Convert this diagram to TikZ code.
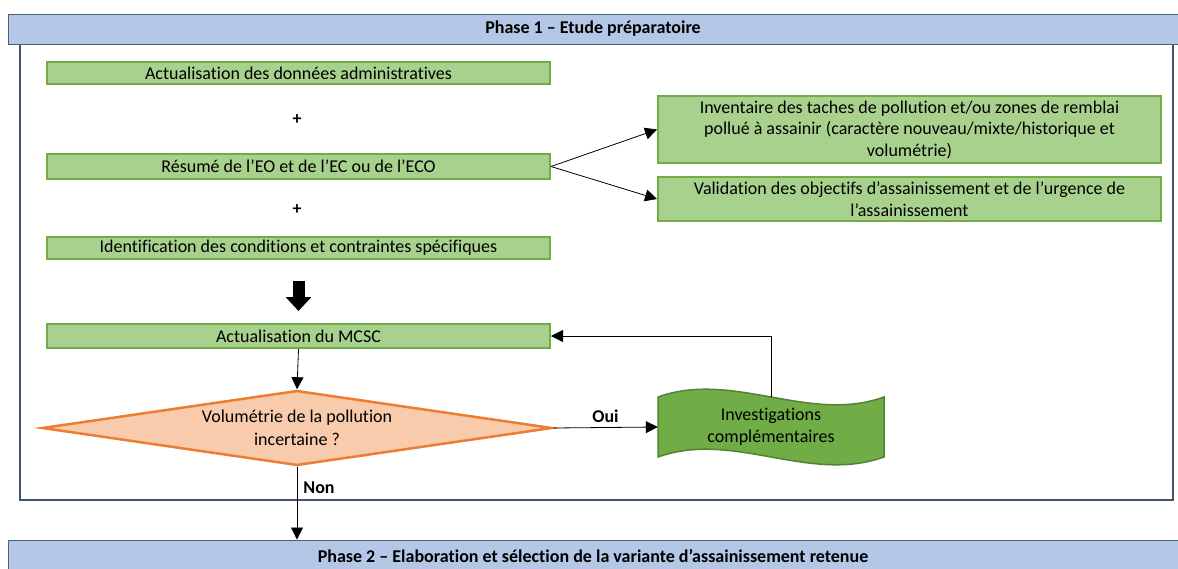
\documentclass[tikz,border=0pt]{standalone}
\usepackage{fontspec}
\setmainfont{Carlito}[Ligatures={TeX,NoCommon}]
\usepackage{tikz}
\usetikzlibrary{arrows.meta,shapes,calc}

\definecolor{headfill}{HTML}{B4C7E7}
\definecolor{headline}{HTML}{4A5E80}
\definecolor{framecol}{HTML}{44546A}
\definecolor{greenfill}{HTML}{A9D18E}
\definecolor{greenline}{HTML}{70AD47}
\definecolor{wavefill}{HTML}{70AD47}
\definecolor{waveline}{HTML}{548235}
\definecolor{diafill}{HTML}{F8CBAD}
\definecolor{dialine}{HTML}{ED7D31}

\begin{document}
\begin{tikzpicture}[x=1pt,y=-1pt]
\tikzset{
	phase node/.style = {rectangle, draw = headline, fill = headfill, line width = 1, minimum width = 1170, inner sep = 0, font = \fontsize{18}{21.5}\selectfont\bfseries},
	green node/.style = {rectangle, draw = greenline, fill = greenfill, line width = 2, minimum width = 503, inner sep = 0, align = center, font = \fontsize{18}{21.5}\selectfont},
	plus node/.style = {inner sep = 0, font = \fontsize{18}{21.5}\selectfont\bfseries},
	test node/.style = {diamond, aspect = 6.8, draw = dialine, fill = diafill, line width = 2.5, minimum width = 510, minimum height = 75, inner sep = 0},
	test text/.style = {inner sep = 0, align = center, font = \fontsize{18}{23}\selectfont},
	wave node/.style = {rectangle, minimum width = 226, minimum height = 60, inner sep = 0, align = center, font = \fontsize{18}{22}\selectfont},
	link/.style = {line width = 0.8, -{Triangle[length = 12, width = 12]}},
	big arrow/.style = {line width = 12, -{Triangle[length = 14, width = 25]}}
}
\useasboundingbox (0,0) rectangle (1178,568);

\draw[framecol, line width = 2] (20,44) rectangle (1173,500);
\node(1)[phase node, minimum height = 30] at (593,29) {Phase 1 – Etude préparatoire};

\node(2)[green node, minimum height = 22] at (298.5,73) {Actualisation des données administratives};
\node(3)[plus node] at (297,120) {+};
\node(4)[green node, minimum height = 25] at (298.5,166.5) {Résumé de l’EO et de l’EC ou de l’ECO};
\node(5)[plus node] at (297,210) {+};
\node(6)[green node, minimum height = 22] at (298.5,248) {Identification des conditions et contraintes spécifiques};
\node(7)[green node, minimum height = 24] at (298.5,336) {Actualisation du MCSC};
\node(8)[test node] at (297,428) {};
\node(8t)[test text] at (8) {Volumétrie de la pollution\\incertaine ?};

\draw[waveline, fill = wavefill, line width = 1.5]
	(658,397) .. controls (733,370) and (809,424) .. (884,397)
	-- (884,457) .. controls (809,484) and (733,430) .. (658,457) -- cycle;
\node(9)[wave node] at (771,427) {Investigations\\complémentaires};

\node(10)[green node, minimum height = 67] at (909.5,129.5) {Inventaire des taches de pollution et/ou zones de remblai\\pollué à assainir (caractère nouveau/mixte/historique et\\volumétrie)};
\node(11)[green node, minimum height = 44] at (909.5,199) {Validation des objectifs d’assainissement et de l’urgence de\\l’assainissement};

\node(12)[phase node, minimum height = 32] at (593,556) {Phase 2 – Elaboration et sélection de la variante d’assainissement retenue};

\draw[link] (4.east) -- (10.west);
\draw[link] (4.east) -- (11.west);
\draw[big arrow] ($(6.south)+(0,21)$) -- ($(7.north)+(0,-12)$);
\draw[link] (7.south) -- (8.north);
\draw[link] (8.east) -- node[above = 4, plus node]{Oui} (9.west);
\draw[link] (9.north) |- (7.east);
\draw[link] (8.south) -- node[right = 6, pos = .29, plus node]{Non} (8.south |- 12.north);
\end{tikzpicture}
\end{document}
